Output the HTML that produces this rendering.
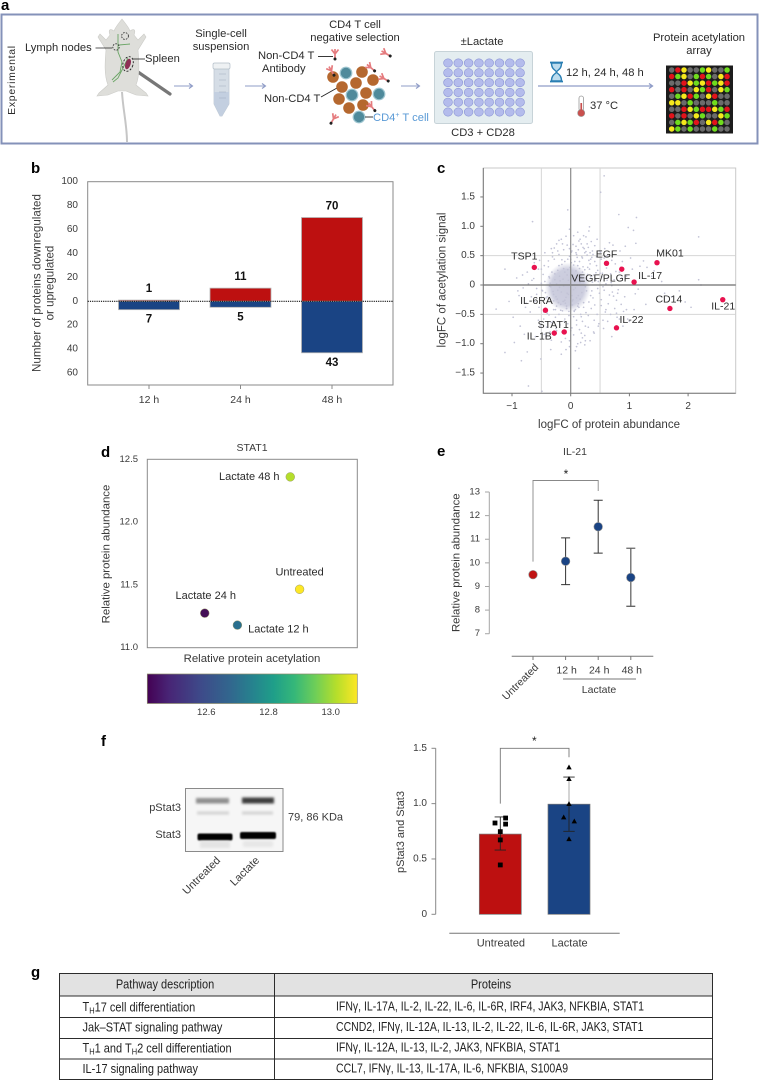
<!DOCTYPE html>
<html lang="en">
<head>
<meta charset="utf-8">
<title>Lactate and protein acetylation figure</title>
<style>
html,body{margin:0;padding:0;background:#fff;width:760px;height:1080px;overflow:hidden}
svg{display:block;font-family:"Liberation Sans","DejaVu Sans",sans-serif}
text{fill:#3a3a3a;font-size:11px}
.plab{font-weight:700;font-size:15px;fill:#000}
.ill{font-size:11.2px;fill:#2b2b2b}
.cond{font-size:12.5px;fill:#222}
</style>
</head>
<body>
<svg id="fig" width="760" height="1080" viewBox="0 0 760 1080" xmlns="http://www.w3.org/2000/svg">
<defs>
<linearGradient id="viridis" x1="0" x2="1" y1="0" y2="0">
<stop offset="0" stop-color="#440154"/><stop offset=".1" stop-color="#482475"/><stop offset=".25" stop-color="#3e4989"/><stop offset=".4" stop-color="#31688e"/><stop offset=".5" stop-color="#26828e"/><stop offset=".6" stop-color="#1f9e89"/><stop offset=".7" stop-color="#35b779"/><stop offset=".8" stop-color="#6ece58"/><stop offset=".9" stop-color="#b5de2b"/><stop offset="1" stop-color="#fde725"/>
</linearGradient>
<radialGradient id="coreFade"><stop offset="0" stop-color="#c9cadb"/><stop offset=".72" stop-color="#cdcedf"/><stop offset="1" stop-color="#d0d1e1" stop-opacity="0"/></radialGradient>
<filter id="b1" x="-20%" y="-100%" width="140%" height="300%"><feGaussianBlur stdDeviation="1.3"/></filter>
<filter id="b2" x="-20%" y="-100%" width="140%" height="300%"><feGaussianBlur stdDeviation=".9"/></filter>
<g id="ab"><path d="M0,-4 L0,1 M0,1 L-3.5,-3.5 M0,1 L3.5,-3.5 M0,1 L0,5" stroke="#e57b7e" stroke-width="1.7" fill="none"/><circle cx="0" cy="6" r="1.5" fill="#222"/></g>
</defs>

<!-- Panel letters -->
<text class="plab" x="1" y="10">a</text>
<text class="plab" x="31" y="173">b</text>
<text class="plab" x="437" y="173">c</text>
<text class="plab" x="101" y="457">d</text>
<text class="plab" x="437" y="456">e</text>
<text class="plab" x="101" y="746">f</text>
<text class="plab" x="31" y="977">g</text>

<!-- Panel a: workflow -->
<g>
<rect x="1.5" y="14.5" width="756" height="129" fill="#fff" stroke="#8492b9" stroke-width="2"/>
<text class="ill" transform="translate(12,80) rotate(-90)" text-anchor="middle" dominant-baseline="central" style="letter-spacing:.7px;font-size:10.5px">Experimental</text>

<g>
<path d="M122,92 C123,110 127,125 127,142" stroke="#c6c6c6" stroke-width="2" fill="none"/>
<path d="M138,72 L170,94" stroke="#777" stroke-width="3.2" stroke-linecap="round"/>
<path d="M122,19 C126,24 129,28 130,31 C134,28 136,30 134,35 L138,40 L144,34 L146,37 L138,50 C139,62 140,75 136,85 L146,93 L148,96 L136,95 L126,91 L118,91 L108,95 L97,96 L99,93 L108,85 C104,75 105,62 106,50 L98,37 L100,34 L106,40 L110,35 C108,30 110,28 114,31 C115,28 118,24 122,19 Z" fill="#dedeDA" stroke="#cbcbc7" stroke-width=".6"/>
<path d="M118,34 L118,52 L122,62 L120,72 L112,80 M119,45 L130,44 M128,58 L123,68 L118,78 L113,82" stroke="#6aa565" stroke-width=".9" fill="none"/>
<ellipse cx="128" cy="64" rx="2.6" ry="5.5" fill="#8e2f55" transform="rotate(18 128 64)"/>
<ellipse cx="128" cy="64" rx="5" ry="7.5" fill="none" stroke="#222" stroke-width=".9" stroke-dasharray="2 1.5" transform="rotate(18 128 64)"/>
<circle cx="125" cy="36" r="3.4" fill="none" stroke="#222" stroke-width=".8" stroke-dasharray="1.6 1.2"/>
<circle cx="116" cy="47" r="3.2" fill="none" stroke="#222" stroke-width=".8" stroke-dasharray="1.6 1.2"/>
</g>
<path d="M95.5,48 L112,48" stroke="#222" stroke-width=".8"/>
<text class="ill" x="25" y="48" dominant-baseline="central">Lymph nodes</text>
<path d="M133,59 L145,59" stroke="#222" stroke-width=".8"/>
<text class="ill" x="145" y="59" dominant-baseline="central">Spleen</text>

<text class="ill" x="221" y="34" text-anchor="middle" dominant-baseline="central">Single-cell</text>
<text class="ill" x="221" y="47" text-anchor="middle" dominant-baseline="central">suspension</text>
<g>
<path d="M214,68 L229,68 L229,104 L222,116 L220,116 L214,104 Z" fill="#d5dde6" stroke="#bac5cf" stroke-width=".7"/>
<path d="M214,92 L229,92 L229,104 L222,116 L220,116 L214,104 Z" fill="#c3cfe0"/>
<rect x="213" y="63" width="17" height="6" rx="1.5" fill="#eef1f3" stroke="#b3bec8" stroke-width=".7"/>
<path d="M219,74 H226 M219,80 H226 M219,86 H226 M219,92 H226 M219,98 H226" stroke="#9fadbd" stroke-width=".6"/>
</g>

<g stroke="#8f9cc7" stroke-width="1.1" fill="none">
<path d="M174,86 H192 M189,83.5 L192.5,86 L189,88.5"/>
<path d="M245,86 H265 M262,83.5 L265.5,86 L262,88.5"/>
<path d="M401,86 H419 M416,83.5 L419.5,86 L416,88.5"/>
<path d="M538,86 H652 M649,83.5 L652.5,86 L649,88.5" stroke-width="1.3"/>
</g>

<text class="ill" x="355" y="25" text-anchor="middle" dominant-baseline="central">CD4 T cell</text>
<text class="ill" x="355" y="38" text-anchor="middle" dominant-baseline="central">negative selection</text>
<text class="ill" x="258" y="56" dominant-baseline="central">Non-CD4 T</text>
<text class="ill" x="262" y="69" dominant-baseline="central">Antibody</text>
<path d="M318,56.5 H333" stroke="#222" stroke-width=".9"/>
<text class="ill" x="264" y="99" dominant-baseline="central">Non-CD4 T</text>
<path d="M321,97 L337,88" stroke="#222" stroke-width=".9"/>
<g id="cells"></g>
<g>
<use href="#ab" transform="translate(335,53)"/>
<use href="#ab" transform="translate(385,53) rotate(-60)"/>
<use href="#ab" transform="translate(331,70) rotate(-30)"/>
<use href="#ab" transform="translate(370,67) rotate(-50)"/>
<use href="#ab" transform="translate(383,78) rotate(-60)"/>
<use href="#ab" transform="translate(371,106) rotate(-40)"/>
<use href="#ab" transform="translate(334,118) rotate(30)"/>
</g>
<path d="M365,117 H373" stroke="#222" stroke-width=".9"/>
<text class="ill" x="373" y="118" dominant-baseline="central" style="fill:#5a9ad6">CD4<tspan dy="-3" font-size="7">+</tspan><tspan dy="3"> T cell</tspan></text>

<text class="ill" x="482" y="42" text-anchor="middle" dominant-baseline="central">±Lactate</text>
<rect x="434.5" y="51.5" width="98" height="72" rx="2" fill="#e4edf0" stroke="#c7d3d8"/>
<g id="wells"></g>
<text class="ill" x="483" y="133" text-anchor="middle" dominant-baseline="central">CD3 + CD28</text>

<g fill="none" stroke="#2a7fb3" stroke-width="1.4">
<path d="M550,62.5 H563 M550,81.5 H563" stroke-width="1.8"/>
<path d="M551.5,63 C551.5,70 556,70 556.5,72 C556,74 551.5,74 551.5,81 H561.5 C561.5,74 557,74 556.5,72 C557,70 561.5,70 561.5,63 Z" fill="#bcdcee"/>
</g>
<text class="ill" x="566" y="73" dominant-baseline="central">12 h, 24 h, 48 h</text>
<g>
<rect x="579" y="96" width="4.5" height="15" rx="2.2" fill="#fff" stroke="#999" stroke-width=".8"/>
<circle cx="581.2" cy="113" r="3.6" fill="#c9504e" stroke="#999" stroke-width=".6"/>
<rect x="580.4" y="103" width="1.7" height="8" fill="#c9504e"/>
</g>
<text class="ill" x="590" y="106" dominant-baseline="central">37 °C</text>

<text class="ill" x="699" y="38" text-anchor="middle" dominant-baseline="central">Protein acetylation</text>
<text class="ill" x="699" y="51" text-anchor="middle" dominant-baseline="central">array</text>
<rect x="666" y="65.5" width="67" height="68" fill="#1c1c1c"/>
<g id="spots"></g>
</g>

<!-- Chart panels are built below -->
<g id="panelB"></g>
<g id="panelC"></g>
<g id="panelD"></g>
<g id="panelE"></g>

<!-- Panel f: blot -->
<g>
<rect x="185.5" y="788.5" width="97.5" height="63" fill="#f6f6f6" stroke="#8a8a8a" stroke-width="1"/>
<rect x="196" y="798" width="33" height="5.5" fill="#8f8f8f" filter="url(#b1)"/>
<rect x="242" y="797.5" width="32" height="6" fill="#3c3c3c" filter="url(#b1)"/>
<rect x="197" y="811.5" width="32" height="3" fill="#d2d2d2" filter="url(#b1)"/>
<rect x="242" y="811.5" width="31" height="3" fill="#d2d2d2" filter="url(#b1)"/>
<rect x="197.5" y="833.5" width="35" height="7" rx="2" fill="#000" filter="url(#b2)"/>
<rect x="240" y="832" width="36" height="7" rx="2" fill="#000" filter="url(#b2)"/>
<rect x="200" y="841" width="30" height="7" fill="#e4e4e4" filter="url(#b1)"/>
<rect x="243" y="841" width="30" height="6" fill="#e7e7e7" filter="url(#b1)"/>
</g>
<text x="181" y="808" text-anchor="end" dominant-baseline="central">pStat3</text>
<text x="181" y="835" text-anchor="end" dominant-baseline="central">Stat3</text>
<text x="288" y="817.5" dominant-baseline="central">79, 86 KDa</text>
<text text-anchor="end" transform="translate(221,861) rotate(-45)">Untreated</text>
<text text-anchor="end" transform="translate(260,861) rotate(-45)">Lactate</text>

<g id="panelF"></g>

<!-- Panel g: table -->
<g>
<rect x="59.5" y="973.5" width="653" height="22.5" fill="#e2e2e2"/>
<path d="M59.5,973.5 H712.5 V1079.5 H59.5 Z M274.5,973.5 V1079.5 M59.5,996 H712.5 M59.5,1017.5 H712.5 M59.5,1038.5 H712.5 M59.5,1059 H712.5" fill="none" stroke="#2c2c2c" stroke-width="1"/>
<text class="cond" transform="translate(165,985) scale(.88,1)" text-anchor="middle" dominant-baseline="central">Pathway description</text>
<text class="cond" transform="translate(491,985) scale(.88,1)" text-anchor="middle" dominant-baseline="central">Proteins</text>
<text class="cond" transform="translate(82.5,1007.5) scale(.88,1)" dominant-baseline="central">T<tspan font-size="8.5" dy="3">H</tspan><tspan dy="-3">17 cell differentiation</tspan></text>
<text class="cond" transform="translate(336,1007.5) scale(.84,1)" dominant-baseline="central">IFNγ, IL-17A, IL-2, IL-22, IL-6, IL-6R, IRF4, JAK3, NFKBIA, STAT1</text>
<text class="cond" transform="translate(82.5,1028) scale(.88,1)" dominant-baseline="central">Jak–STAT signaling pathway</text>
<text class="cond" transform="translate(336,1028) scale(.84,1)" dominant-baseline="central">CCND2, IFNγ, IL-12A, IL-13, IL-2, IL-22, IL-6, IL-6R, JAK3, STAT1</text>
<text class="cond" transform="translate(82.5,1048.5) scale(.88,1)" dominant-baseline="central">T<tspan font-size="8.5" dy="3">H</tspan><tspan dy="-3">1 and T</tspan><tspan font-size="8.5" dy="3">H</tspan><tspan dy="-3">2 cell differentiation</tspan></text>
<text class="cond" transform="translate(336,1048.5) scale(.84,1)" dominant-baseline="central">IFNγ, IL-12A, IL-13, IL-2, JAK3, NFKBIA, STAT1</text>
<text class="cond" transform="translate(82.5,1069.5) scale(.88,1)" dominant-baseline="central">IL-17 signaling pathway</text>
<text class="cond" transform="translate(336,1069.5) scale(.84,1)" dominant-baseline="central">CCL7, IFNγ, IL-13, IL-17A, IL-6, NFKBIA, S100A9</text>
</g>
</svg>

<script>
// ---- Panel b data ----
const timeLabels = ['12 h', '24 h', '48 h'];
const upCounts = [1, 11, 70];
const downCounts = [7, 5, 43];
const bTicksUp = [100, 80, 60, 40, 20, 0];
const bTicksDown = [20, 40, 60];

// ---- Panel c data ----
const hitNames = ['TSP1', 'EGF', 'VEGF/PLGF', 'MK01', 'IL-17', 'IL-6RA', 'CD14', 'IL-21', 'IL-22', 'STAT1', 'IL-1B'];
const hitX = [-0.62, 0.61, 0.87, 1.47, 1.08, -0.43, 1.69, 2.59, 0.78, -0.11, -0.28];
const hitY = [0.30, 0.37, 0.27, 0.38, 0.05, -0.43, -0.40, -0.25, -0.73, -0.80, -0.82];
const cTicksX = [-1, 0, 1, 2];
const cTicksY = [1.5, 1.0, 0.5, 0, -0.5, -1.0, -1.5];
const cloudX = [
0.57,0.51,-0.05,0.82,1.12,-0.65,0.98,1.07,2.18,0.32,0.31,-1.12,1.11,2.18,2.22,-1.27,-0.96,-1.12,-0.74,-0.84,
-0.51,0.14,-0.72,-0.49,0.22,0.45,0.72,0.58,0.66,0.84,0.93,1.02,1.24,1.38,1.55,1.72,1.95,0.41,0.35,0.28,
-0.92,-0.81,-0.74,-0.66,-0.58,-0.53,-0.47,-0.42,-0.38,-0.31,-0.88,-0.77,-0.69,-0.61,-0.55,-0.49,-0.44,-0.36,-0.28,-0.22,
0.38,0.44,0.49,0.53,0.57,0.62,0.68,0.71,0.76,0.81,0.87,0.92,0.34,0.41,0.46,0.52,0.59,0.64,0.73,0.79,
-0.52,-0.46,-0.41,-0.37,-0.33,-0.29,-0.26,-0.21,-0.18,-0.14,-0.11,-0.07,-0.03,0.02,0.06,0.1,0.14,0.18,0.22,0.26,
-0.24,-0.19,-0.16,-0.12,-0.08,-0.04,0.01,0.05,0.09,0.13,0.17,0.21,0.25,0.29,0.33,0.37,-0.15,-0.09,-0.02,0.04,
0.11,0.16,0.24,0.31,0.36,0.43,-0.35,-0.3,-0.27,-0.23,-0.2,-0.17,-0.13,-0.1,-0.06,-0.01,0.03,0.08,0.12,0.19,
-0.12,-0.06,0.02,0.07,0.15,0.2,0.27,-0.18,-0.25,0.32,0.39,0.47,0.55,0.61,0.69,0.77,0.86,0.95,1.05,1.18,
-0.42,-0.33,-0.24,-0.16,-0.09,-0.02,0.05,0.12,0.18,0.25,0.3,0.39,0.48,0.56,0.63,0.7,0.78,-0.55,-0.62,-0.7,
-0.02,0.04,0.09,0.14,0.21,0.28,-0.08,-0.14,-0.2,-0.05,0.01,0.07,0.13,0.19,0.26,0.34,-0.38,-0.45,-0.31,-0.26,
1.3,1.42,1.6,1.85,2.05,1.15,1.28,1.08,0.97,0.89,-1.05,-0.98,-0.86,-0.79,-0.6,-0.34,-0.16,0.08,0.17,0.24,
-0.1,-0.04,0.03,0.1,0.16,-0.22,-0.29,-0.36,-0.43,-0.5,0.42,0.5,0.6,0.7,0.8,-0.13,-0.07,0,0.06,0.12,
-0.48,-0.44,-0.4,-0.37,-0.34,-0.32,-0.29,-0.27,-0.24,-0.22,-0.19,-0.17,-0.15,-0.12,-0.1,-0.07,-0.05,-0.03,0,0.03,
0.05,0.08,0.1,0.13,0.15,0.17,0.2,0.22,0.24,0.27,0.29,0.31,0.34,0.36,0.38,0.41,0.43,0.46,0.49,0.52,
0.54,0.57,0.6,0.63,0.66,0.7,0.74,0.78,0.83,0.88,-0.58,-0.63,-0.67,-0.72,-0.76,-0.82,-0.9,-0.54,-0.5,-0.46,
-0.3,-0.25,-0.2,-0.15,-0.1,-0.05,0,0.05,0.1,0.15,0.2,0.25,0.3,0.35,0.4,0.45,-0.35,-0.4,-0.45,-0.28,
-0.2,-0.12,-0.06,0.02,0.09,0.16,0.23,0.3,0.37,0.44,0.51,0.05,0.12,0.18,0.26,0.33,-0.02,-0.16,-0.24,-0.33,
0.52,0.6,0.68,0.75,0.83,0.9,1.0,1.1,0.95,0.85,0.62,0.55,0.47,0.4,0.33,0.24,-0.08,-0.02,0.1,0.2
];
const cloudY = [
1.86,1.58,1.28,1.2,1.15,1.08,0.98,0.93,0.82,0.99,0.92,0.27,0.71,0.09,0,-0.41,-0.98,-1.15,-1.14,-1.29,
-1.26,-1.42,-1.72,-1.81,0.84,0.78,0.68,0.62,0.72,0.58,0.66,0.46,0.41,0.15,0.06,-0.2,-0.29,0.67,0.74,0.7,
0.12,-0.05,0.22,0.08,-0.16,0.42,0.18,-0.22,0.31,0.48,-0.18,-0.38,-0.46,-0.28,-0.6,-0.09,0.55,0.12,0.63,0.58,
0.52,0.33,0.58,0.14,0.46,0.08,0.19,-0.12,0.36,-0.08,0.12,-0.2,-0.18,-0.34,-0.06,-0.25,-0.46,-0.32,-0.19,-0.55,
-0.7,-0.58,-0.72,-0.51,-0.64,-0.42,-0.55,-0.3,-0.68,-0.44,-0.62,-0.36,-0.52,-0.73,-0.45,-0.6,-0.38,-0.54,-0.3,-0.47,
0.02,0.15,-0.12,0.28,-0.21,0.08,0.38,-0.08,0.24,-0.18,0.14,0.31,-0.03,0.18,0.36,0.05,0.43,-0.31,0.49,-0.25,
0.47,0.04,0.26,0.42,-0.1,0.21,0.03,-0.11,0.19,-0.24,0.33,-0.33,0.1,0.22,-0.14,0.3,0.11,-0.05,0.33,-0.13,
-0.02,0.17,-0.18,0.06,0.4,0.22,0.12,0.07,-0.2,0.27,0.17,0.06,-0.03,0.29,0.04,0.23,-0.33,-0.42,0.27,0.32,
-0.88,-0.94,-0.78,-0.97,-0.91,-1.05,-0.85,-1.0,-0.82,-0.95,-0.72,-0.8,-0.66,-0.74,-0.62,-0.88,-0.48,0.27,0.38,0.49,
0.62,0.69,0.55,0.75,0.64,0.51,0.83,0.7,0.76,0.44,0.56,0.4,0.6,0.48,0.57,0.44,0.41,0.33,0.55,-0.42,
0.3,0.24,-0.14,-0.1,-0.38,-0.07,-0.33,-0.42,-0.58,-0.7,-0.28,-0.55,-0.7,-0.84,-0.88,-1.1,-1.18,-1.12,-0.98,-0.86,
-0.26,-0.16,-0.27,-0.22,-0.24,-0.09,-0.16,-0.02,-0.13,0.03,0.1,0.2,0.02,-0.01,-0.14,-0.28,-0.4,-0.34,-0.44,-0.36,
-0.1,0.06,-0.2,0.14,-0.03,0.22,-0.27,0.09,-0.36,0.25,-0.04,-0.43,0.35,-0.28,0.4,-0.4,0.26,-0.45,0.44,-0.34,
0.34,-0.42,0.52,-0.32,0.28,-0.5,0.46,-0.38,0.55,-0.1,0.3,-0.29,0.14,0.47,-0.22,0.4,0.08,0.25,-0.14,0.44,
0.2,-0.09,0.34,0.12,-0.17,0.42,0.09,-0.26,0.22,0.4,-0.06,0.11,-0.2,0.02,-0.31,0.17,-0.1,-0.38,0.27,-0.46,
-0.62,-0.74,-0.5,-0.8,-0.58,-0.66,-0.78,-0.54,-0.68,-0.76,-0.62,-0.7,-0.52,-0.4,-0.6,-0.5,-0.8,-0.48,-0.84,0.44,
0.52,0.6,0.68,0.58,0.66,0.78,0.62,0.64,0.58,0.48,0.56,0.84,0.9,0.7,0.82,0.55,0.95,0.78,0.7,0.62,
-0.35,-0.42,-0.5,-0.4,-0.58,-0.45,-0.62,-0.15,0.15,0.3,0.5,-0.6,-0.7,-0.82,-0.95,-1.02,-1.1,-0.95,-1.05,-0.9
];

// ---- Panel d data ----
const stat1Names = ['Lactate 48 h', 'Untreated', 'Lactate 24 h', 'Lactate 12 h'];
const stat1Acetyl = [12.87, 12.90, 12.595, 12.70];
const stat1Abund = [12.36, 11.465, 11.275, 11.18];
const stat1Colors = ['#b5de2b', '#fde725', '#440f57', '#2a6f8e'];
const dTicksY = [12.5, 12.0, 11.5, 11.0];
const dTicksColor = [12.6, 12.8, 13.0];

// ---- Panel e data ----
const il21Groups = ['Untreated', '12 h', '24 h', '48 h'];
const il21Mean = [9.5, 10.07, 11.53, 9.38];
const il21Low = [9.5, 9.08, 10.41, 8.16];
const il21High = [9.5, 11.06, 12.65, 10.62];
const eTicks = [13, 12, 11, 10, 9, 8, 7];

// ---- Panel f data ----
const fGroups = ['Untreated', 'Lactate'];
const fMeans = [0.725, 0.995];
const fErrLow = [0.58, 0.75];
const fErrHigh = [0.88, 1.24];
const fUntreatedPointsX = [0, 0, 0, -1, 1, 1];
const fUntreatedPointsY = [0.446, 0.672, 0.747, 0.825, 0.87, 0.815];
const fLactatePointsX = [0, -1, 1, 0, 0, 0];
const fLactatePointsY = [0.68, 0.877, 0.84, 0.997, 1.223, 1.328];
const fTicks = [1.5, 1.0, 0.5, 0];

const arrayRows = ['GRYGGLYGGL','RLYGLRLGYR','GGRYLYRLYR','RGRGYLRGYL','GLYRLGYRGG','YYGLGGGLGG','GGRYLRRYLR','RGRGYLGGYL','GLYLRGYRLG','YLGLGGGLGG'];
const spotColors = {G:'#6b6b6b', R:'#e2131b', Y:'#f5e81c', L:'#6fdc1d'};

const NS = 'http://www.w3.org/2000/svg';
function mk(tag, attrs, parent) {
  const e = document.createElementNS(NS, tag);
  for (const k in attrs) e.setAttribute(k, attrs[k]);
  parent.appendChild(e);
  return e;
}
function tx(str, x, y, attrs, parent) {
  const base = {x: x, y: y, 'dominant-baseline': 'central'};
  const e = mk('text', Object.assign(base, attrs || {}), parent);
  e.textContent = str;
  return e;
}
const fmt = v => (v < 0 ? '\u2212' : '') + Math.abs(v);
const fmt1 = v => v === 0 ? '0' : (v < 0 ? '\u2212' : '') + Math.abs(v).toFixed(1);

// ---- Workflow decorations ----
(function () {
  const cells = document.getElementById('cells');
  const brown = [[333,77],[362,72],[373,80],[342,87],[356,83],[366,93],[339,99],[349,108],[363,105]];
  const teal = [[346,73],[352,95],[379,94],[359,117]];
  brown.forEach(p => {
    const c = mk('circle', {cx:p[0], cy:p[1], r:5.8, fill:'#b5682f'}, cells);
    
    
  });
  teal.forEach(p => {
    const c = mk('circle', {cx:p[0], cy:p[1], r:5.8, fill:'#4f8a9b', stroke:'#9cc4cf', 'stroke-width':1.2}, cells);
    
    
  });
  const wells = document.getElementById('wells');
  for (let r = 0; r < 6; r++) for (let k = 0; k < 8; k++) {
    const w = mk('ellipse', {cx:448 + k * 10.3, cy:63 + r * 9.8, rx:4.4, ry:4.2, fill:'#b4bcec', stroke:'#8a93d6', 'stroke-width':.6}, wells);
    
    
  }
  const spots = document.getElementById('spots');
  arrayRows.forEach((row, r) => row.split('').forEach((ch, k) => {
    const s = mk('circle', {cx:671.7 + k * 6.15, cy:70 + r * 6.55, r:2.75, fill:spotColors[ch]}, spots);
    
    
  }));
})();

// ---- Panel b ----
(function () {
  const g = document.getElementById('panelB');
  const yB = v => 301.3 - v * 1.197;
  const xB = i => 149 + i * 91.5;
  const frame = mk('rect', {x:87.7, y:181.7, width:305.3, height:203.3, fill:'none', stroke:'#8a8a8a', 'stroke-width':1}, g);
  
  
  bTicksUp.forEach(v => {
    const t = tx(String(v), 78, yB(v), {'text-anchor':'end', style:'font-size:10px'}, g);
    
    
  });
  bTicksDown.forEach(v => {
    const t = tx(String(v), 78, yB(-v), {'text-anchor':'end', style:'font-size:10px'}, g);
    
    
  });
  timeLabels.forEach((lab, i) => {
    const cx = xB(i);
    const up = mk('rect', {x:cx - 30.5, y:yB(upCounts[i]), width:61, height:yB(0) - yB(upCounts[i]), fill:'#bd1010', stroke:'#b5b5b5', 'stroke-width':.8}, g);
    
    
    const dn = mk('rect', {x:cx - 30.5, y:yB(0), width:61, height:yB(-downCounts[i]) - yB(0), fill:'#1a4484', stroke:'#b5b5b5', 'stroke-width':.8}, g);
    
    
    const ut = tx(String(upCounts[i]), cx, yB(upCounts[i]) - 11, {'text-anchor':'middle', 'font-weight':700, style:'font-size:11.5px;fill:#111'}, g);
    
    
    const dt = tx(String(downCounts[i]), cx, yB(-downCounts[i]) + 10, {'text-anchor':'middle', 'font-weight':700, style:'font-size:11.5px;fill:#111'}, g);
    
    
    const tick = mk('line', {x1:cx, x2:cx, y1:385, y2:389, stroke:'#8a8a8a'}, g);
    
    
    const tl = tx(lab, cx, 400, {'text-anchor':'middle', style:'font-size:10.5px'}, g);
    
    
  });
  const zero = mk('line', {x1:87.7, x2:393, y1:yB(0), y2:yB(0), stroke:'#111', 'stroke-width':1.1, 'stroke-dasharray':'1.2 1'}, g);
  
  
  const yt = mk('text', {transform:'translate(37,283) rotate(-90)', 'text-anchor':'middle', 'dominant-baseline':'central', style:'font-size:11.6px'}, g);
  
  
  yt.textContent = 'Number of proteins downregulated';
  const yt2 = mk('text', {transform:'translate(50,283) rotate(-90)', 'text-anchor':'middle', 'dominant-baseline':'central', style:'font-size:11.6px'}, g);
  
  
  yt2.textContent = 'or upregulated';
})();

// ---- Panel c ----
(function () {
  const g = document.getElementById('panelC');
  const xC = v => 570.7 + v * 58.7;
  const yC = v => 285 - v * 58.7;
  const L = 483.3, R = 735.7, T = 168, B = 393.3;
  const frame = mk('rect', {x:L, y:T, width:R - L, height:B - T, fill:'none', stroke:'#c9c9c9', 'stroke-width':1}, g);
  
  
  [-0.5, 0.5].forEach(v => {
    const a = mk('line', {x1:xC(v), x2:xC(v), y1:T, y2:B, stroke:'#d6d6d6'}, g);
    
    
    const b = mk('line', {x1:L, x2:R, y1:yC(v), y2:yC(v), stroke:'#d6d6d6'}, g);
    
    
  });
  const core = mk('ellipse', {cx:xC(-0.05), cy:yC(-0.04), rx:23, ry:25, fill:'url(#coreFade)'}, g);
  
  
  cloudX.forEach((x, i) => {
    const d = mk('circle', {cx:xC(x), cy:yC(cloudY[i]), r:.85, fill:'#c2c3d6'}, g);
    
    
  });
  const h0 = mk('line', {x1:L, x2:R, y1:yC(0), y2:yC(0), stroke:'#6e6e6e', 'stroke-width':1.2}, g);
  
  
  const v0 = mk('line', {x1:xC(0), x2:xC(0), y1:T, y2:B, stroke:'#8b8b8b', 'stroke-width':1.2}, g);
  
  
  const ax = mk('path', {d:'M' + L + ',' + T + ' V' + B + ' H' + R, fill:'none', stroke:'#777', 'stroke-width':1}, g);
  
  
  cTicksX.forEach(v => {
    const t = mk('line', {x1:xC(v), x2:xC(v), y1:B, y2:B + 3, stroke:'#777'}, g);
    
    
    const l = tx(fmt(v), xC(v), 406.5, {'text-anchor':'middle', style:'font-size:10px'}, g);
    
    
  });
  cTicksY.forEach(v => {
    const t = mk('line', {x1:L - 3, x2:L, y1:yC(v), y2:yC(v), stroke:'#777'}, g);
    
    
    const l = tx(fmt1(v), 475, yC(v), {'text-anchor':'end', style:'font-size:10px'}, g);
    
    
  });
  const xt = tx('logFC of protein abundance', 609, 425, {'text-anchor':'middle', style:'font-size:11.5px'}, g);
  
  
  const yt = mk('text', {transform:'translate(442.7,280) rotate(-90)', 'text-anchor':'middle', 'dominant-baseline':'central', style:'font-size:11.5px'}, g);
  
  
  yt.textContent = 'logFC of acetylation signal';
  const labelDx = [-10, 0, -21, 13, 16, -9, -1, 0.5, 15, -11, -15];
  const labelDy = [-11, -9, 9.5, -9, -6, -9, -9, 7, -8, -7, 3.5];
  hitNames.forEach((n, i) => {
    const p = mk('circle', {cx:xC(hitX[i]), cy:yC(hitY[i]), r:2.7, fill:'#e8124f'}, g);
    
    
    const t = tx(n, xC(hitX[i]) + labelDx[i], yC(hitY[i]) + labelDy[i], {'text-anchor':'middle', style:'font-size:10.5px;fill:#2b2b2b'}, g);
    
    
  });
})();

// ---- Panel d ----
(function () {
  const g = document.getElementById('panelD');
  const xD = v => 206.3 + (v - 12.6) * 311;
  const yD = v => 459.3 + (12.5 - v) * 125.6;
  const frame = mk('rect', {x:147.3, y:459.3, width:210, height:188.4, fill:'none', stroke:'#8a8a8a', 'stroke-width':1}, g);
  
  
  const title = tx('STAT1', 252, 448, {'text-anchor':'middle', style:'font-size:10.5px'}, g);
  
  
  dTicksY.forEach(v => {
    const t = tx(v.toFixed(1), 138, yD(v), {'text-anchor':'end', style:'font-size:9.5px'}, g);
    
    
  });
  const labelDx = [-41, 0, 1, 41];
  const labelDy = [0, -17, -17, 4.5];
  stat1Names.forEach((n, i) => {
    const p = mk('circle', {cx:xD(stat1Acetyl[i]), cy:yD(stat1Abund[i]), r:4.4, fill:stat1Colors[i], stroke:'#9a9a6a', 'stroke-width':.5}, g);
    
    
    const t = tx(n, xD(stat1Acetyl[i]) + labelDx[i], yD(stat1Abund[i]) + labelDy[i], {'text-anchor':'middle', style:'font-size:11px;fill:#2b2b2b'}, g);
    
    
  });
  const xt = tx('Relative protein acetylation', 252, 659, {'text-anchor':'middle', style:'font-size:11.4px'}, g);
  
  
  const yt = mk('text', {transform:'translate(106.7,554) rotate(-90)', 'text-anchor':'middle', 'dominant-baseline':'central', style:'font-size:11.4px'}, g);
  
  
  yt.textContent = 'Relative protein abundance';
  const bar = mk('rect', {x:147.3, y:674, width:210, height:29.5, fill:'url(#viridis)', stroke:'#8a8a6a', 'stroke-width':.7}, g);
  
  
  dTicksColor.forEach(v => {
    const t = tx(v.toFixed(1), xD(v), 712.7, {'text-anchor':'middle', style:'font-size:9.5px'}, g);
    
    
  });
})();

// ---- Panel e ----
(function () {
  const g = document.getElementById('panelE');
  const yE = v => 492 + (13 - v) * 23.62;
  const xE = i => 533 + i * 32.6;
  const axis = mk('line', {x1:489.3, x2:489.3, y1:yE(13), y2:yE(7), stroke:'#a5a5a5', 'stroke-width':1}, g);
  
  
  eTicks.forEach(v => {
    const t = mk('line', {x1:485, x2:489.3, y1:yE(v), y2:yE(v), stroke:'#a5a5a5'}, g);
    
    
    const l = tx(String(v), 480, yE(v), {'text-anchor':'end', style:'font-size:9.5px'}, g);
    
    
  });
  const title = tx('IL-21', 575, 452, {'text-anchor':'middle', style:'font-size:10.5px'}, g);
  
  
  const yt = mk('text', {transform:'translate(456.7,562.7) rotate(-90)', 'text-anchor':'middle', 'dominant-baseline':'central', style:'font-size:11.4px'}, g);
  
  
  yt.textContent = 'Relative protein abundance';
  const brack = mk('path', {d:'M' + xE(0) + ',' + (yE(il21Mean[0]) - 13) + ' V480.5 H' + xE(2) + ' V491', fill:'none', stroke:'#888', 'stroke-width':.9}, g);
  
  
  const star = tx('*', 566, 474, {'text-anchor':'middle', style:'font-size:12px;fill:#222'}, g);
  
  
  il21Groups.forEach((n, i) => {
    const cx = xE(i);
    if (il21High[i] !== il21Low[i]) {
      const er = mk('path', {d:'M' + (cx - 4.5) + ',' + yE(il21High[i]) + ' H' + (cx + 4.5) + ' M' + cx + ',' + yE(il21High[i]) + ' V' + yE(il21Low[i]) + ' M' + (cx - 4.5) + ',' + yE(il21Low[i]) + ' H' + (cx + 4.5), fill:'none', stroke:i === 3 ? '#666' : '#333', 'stroke-width':i === 3 ? 1.3 : 1}, g);
      
      
    }
    const p = mk('circle', {cx:cx, cy:yE(il21Mean[i]), r:4.3, fill:i === 0 ? '#c01414' : '#1a4484', stroke:'#8f8f8f', 'stroke-width':.6}, g);
    
    
    const t = mk('line', {x1:cx, x2:cx, y1:656.3, y2:660, stroke:'#777'}, g);
    
    
    if (i === 0) {
      const l = mk('text', {'text-anchor':'end', transform:'translate(539,668) rotate(-45)', style:'font-size:10.5px'}, g);
      
      
      l.textContent = n;
    } else {
      const l = tx(n, cx + 1, 670.5, {'text-anchor':'middle', style:'font-size:10.5px'}, g);
      
      
    }
  });
  const base = mk('line', {x1:511.7, x2:653.3, y1:656.3, y2:656.3, stroke:'#777'}, g);
  
  
  const gp = mk('line', {x1:563, x2:636, y1:679, y2:679, stroke:'#777'}, g);
  
  
  const gl = tx('Lactate', 599, 690, {'text-anchor':'middle', style:'font-size:10.5px'}, g);
  
  
})();

// ---- Panel f bars ----
(function () {
  const g = document.getElementById('panelF');
  const yF = v => 914.3 - v * 110.67;
  const xF = i => 500.3 + i * 68.7;
  const colors = ['#bd1010', '#1a4484'];
  const axis = mk('line', {x1:435.7, x2:435.7, y1:yF(1.5), y2:yF(0), stroke:'#888'}, g);
  
  
  fTicks.forEach(v => {
    const t = mk('line', {x1:431.5, x2:435.7, y1:yF(v), y2:yF(v), stroke:'#888'}, g);
    
    
    const l = tx(fmt1(v), 427, yF(v), {'text-anchor':'end', style:'font-size:10px'}, g);
    
    
  });
  fGroups.forEach((n, i) => {
    const cx = xF(i);
    const b = mk('rect', {x:cx - 21, y:yF(fMeans[i]), width:42, height:yF(0) - yF(fMeans[i]), fill:colors[i], stroke:'#777', 'stroke-width':.7}, g);
    
    
    const e = mk('path', {d:'M' + (cx - 5.7) + ',' + yF(fErrHigh[i]) + ' H' + (cx + 5.7) + ' M' + cx + ',' + yF(fErrHigh[i]) + ' V' + yF(fErrLow[i]) + ' M' + (cx - 5.7) + ',' + yF(fErrLow[i]) + ' H' + (cx + 5.7), fill:'none', stroke:'#222', 'stroke-width':.9}, g);
    
    
    const l = tx(n, cx + 0.6, 943.7, {'text-anchor':'middle'}, g);
    
    
  });
  const ex = mk('path', {d:'M' + xF(1) + ',' + yF(1.24) + ' V' + yF(1.0), stroke:'#aaa', 'stroke-width':1, fill:'none'}, g);
  
  
  fUntreatedPointsY.forEach((v, i) => {
    const cx = xF(0) + fUntreatedPointsX[i] * 5.3;
    const s = mk('rect', {x:cx - 2.4, y:yF(v) - 2.4, width:4.8, height:4.8, fill:'#000'}, g);
    
    
  });
  fLactatePointsY.forEach((v, i) => {
    const cx = xF(1) + fLactatePointsX[i] * 5.3;
    const cy = yF(v);
    const s = mk('path', {d:'M' + cx + ',' + (cy - 2.8) + ' L' + (cx + 2.7) + ',' + (cy + 2.1) + ' H' + (cx - 2.7) + ' Z', fill:'#000'}, g);
    
    
  });
  const brack = mk('path', {d:'M' + xF(0) + ',' + yF(1.0) + ' V' + yF(1.5) + ' H' + xF(1) + ' V' + (yF(1.5) + 9), fill:'none', stroke:'#777', 'stroke-width':.9}, g);
  
  
  const star = tx('*', 534.3, 741, {'text-anchor':'middle', style:'font-size:12px;fill:#222'}, g);
  
  
  const base = mk('line', {x1:449.3, x2:619.7, y1:933.3, y2:933.3, stroke:'#777'}, g);
  
  
  const yt = mk('text', {transform:'translate(401,832) rotate(-90)', 'text-anchor':'middle', 'dominant-baseline':'central'}, g);
  
  
  yt.textContent = 'pStat3 and Stat3';
})();
</script>
</body>
</html>
